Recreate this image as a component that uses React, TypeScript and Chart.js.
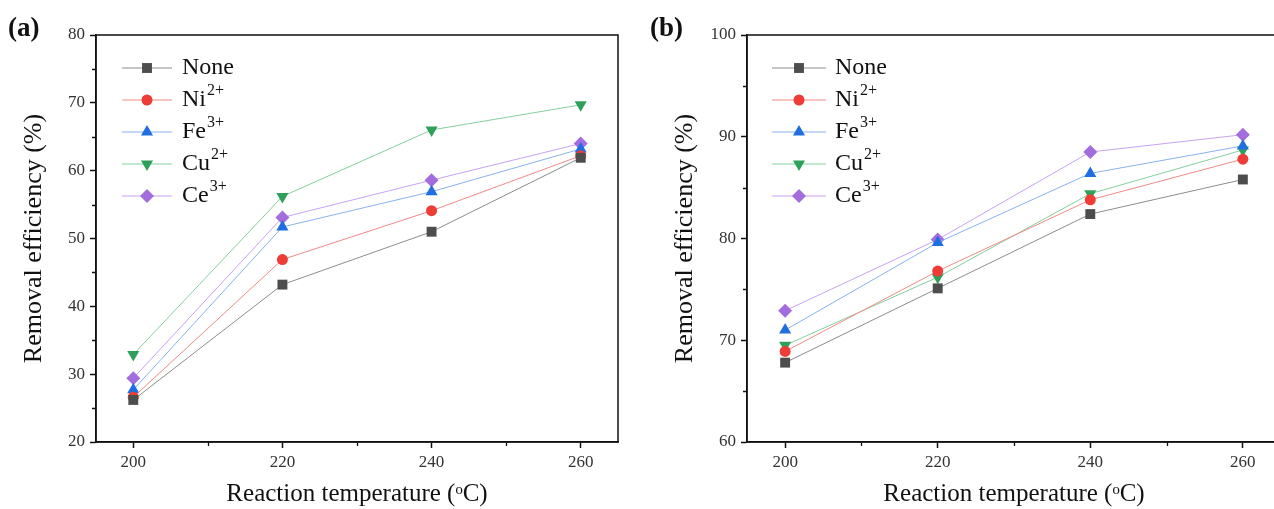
import React, { useEffect, useRef } from 'react';
import { Chart, registerables } from 'chart.js';
import { drawPoint } from 'chart.js/helpers';

Chart.register(...registerables);

// Reaction temperatures (°C)
const temperatures = [200, 220, 240, 260];

// Dopant series
const ionNames = ['None', 'Ni', 'Fe', 'Cu', 'Ce'];
const ionCharges = ['', '2+', '3+', '2+', '3+'];

// Panel (a) removal efficiency (%)
const effA_none = [26.2, 43.2, 51.0, 61.9];
const effA_ni = [26.6, 46.9, 54.1, 62.2];
const effA_fe = [27.7, 51.7, 56.9, 63.2];
const effA_cu = [32.9, 56.2, 66.0, 69.7];
const effA_ce = [29.4, 53.1, 58.6, 64.0];

// Panel (b) removal efficiency (%)
const effB_none = [67.8, 75.1, 82.4, 85.8];
const effB_ni = [68.9, 76.8, 83.8, 87.8];
const effB_fe = [71.0, 79.6, 86.4, 89.1];
const effB_cu = [69.5, 76.2, 84.4, 88.7];
const effB_ce = [72.9, 79.9, 88.5, 90.2];

// Axis ticks
const xTicks = [200, 220, 240, 260];
const xMinorTicks = [210, 230, 250];
const yTicksA = [20, 30, 40, 50, 60, 70, 80];
const yMinorA = [25, 35, 45, 55, 65, 75];
const yTicksB = [60, 70, 80, 90, 100];
const yMinorB = [65, 75, 85, 95];

// Series styling
const lineColors = ['#8c8c8c', '#f08a86', '#88b2ef', '#84cf9e', '#c6a2f2'];
const markerColors = ['#4d4d4d', '#ee3c37', '#1f6fe0', '#2fa05a', '#a36ddd'];
const markerStyles = ['rect', 'circle', 'triangle', 'triangle', 'rectRot'];
const markerRotations = [0, 0, 0, 180, 0];
const markerRadii = [7, 5.5, 7, 7, 7];

const SERIF = '"Liberation Serif", "Times New Roman", serif';

const supDigits: Record<string, string> = { '2': '²', '3': '³', '+': '⁺' };
const seriesLabel = (i: number) =>
  ionNames[i] + ionCharges[i].split('').map((c) => supDigits[c] || c).join('');

// Box frame and minor tick marks
const framePlugin = {
  id: 'frameMinor',
  afterDraw(chart: any, _args: any, opts: any) {
    const { ctx, chartArea: a, scales } = chart;
    ctx.save();
    ctx.strokeStyle = '#111';
    ctx.lineWidth = 1.5;
    ctx.strokeRect(a.left, a.top, a.right - a.left, a.bottom - a.top);
    ctx.lineWidth = 1.3;
    ctx.beginPath();
    for (const v of opts.xMinor) {
      const px = Math.round(scales.x.getPixelForValue(v)) + 0.5;
      ctx.moveTo(px, a.bottom);
      ctx.lineTo(px, a.bottom + 4);
    }
    for (const v of opts.yMinor) {
      const py = Math.round(scales.y.getPixelForValue(v)) + 0.5;
      ctx.moveTo(a.left, py);
      ctx.lineTo(a.left - 4, py);
    }
    ctx.stroke();
    ctx.restore();
  },
};

// Legend with line sample, marker and superscripted ion charge
const legendPlugin = {
  id: 'ionLegend',
  afterDraw(chart: any, _args: any, opts: any) {
    const { ctx, chartArea: a } = chart;
    ctx.save();
    chart.data.datasets.forEach((ds: any, i: number) => {
      const y = a.top + opts.top + i * opts.rowGap;
      const x0 = a.left + opts.lineStart;
      const x1 = a.left + opts.lineEnd;
      ctx.strokeStyle = ds.borderColor;
      ctx.lineWidth = 1;
      ctx.beginPath();
      ctx.moveTo(x0, y);
      ctx.lineTo(x1, y);
      ctx.stroke();
      ctx.fillStyle = ds.pointBackgroundColor;
      ctx.strokeStyle = ds.pointBorderColor;
      drawPoint(
        ctx,
        {
          pointStyle: ds.pointStyle,
          rotation: ds.pointRotation,
          radius: ds.pointRadius,
          borderWidth: 0,
        } as any,
        (x0 + x1) / 2,
        y
      );
      const tx = a.left + opts.textStart;
      ctx.fillStyle = '#111';
      ctx.textBaseline = 'middle';
      ctx.textAlign = 'left';
      ctx.font = `24px ${SERIF}`;
      ctx.fillText(opts.names[i], tx, y);
      const w = ctx.measureText(opts.names[i]).width;
      if (opts.charges[i]) {
        ctx.font = `16px ${SERIF}`;
        ctx.fillText(opts.charges[i], tx + w + 1, y - 9);
      }
    });
    ctx.restore();
  },
};

type PanelProps = {
  series: number[][];
  yMin: number;
  yMax: number;
  yTicks: number[];
  yMinor: number[];
  left: number;
  width: number;
  padLeft: number;
  plotLeft: number;
  plotRight: number;
  legend: { lineStart: number; lineEnd: number; textStart: number };
};

function Panel(p: PanelProps) {
  const ref = useRef<HTMLCanvasElement | null>(null);

  useEffect(() => {
    if (!ref.current) return;
    const datasets = p.series.map((vals, i) => ({
      label: seriesLabel(i),
      data: temperatures.map((t, k) => ({ x: t, y: vals[k] })),
      borderColor: lineColors[i],
      borderWidth: 1,
      pointStyle: markerStyles[i],
      pointRotation: markerRotations[i],
      pointRadius: markerRadii[i],
      pointBackgroundColor: markerColors[i],
      pointBorderColor: markerColors[i],
      pointBorderWidth: 0,
      tension: 0,
    }));

    const chart = new Chart(ref.current, {
      type: 'line',
      data: { datasets },
      plugins: [framePlugin, legendPlugin],
      options: {
        responsive: false,
        animation: false,
        devicePixelRatio: 1,
        layout: {
          padding: { left: p.padLeft, top: 35, right: p.width - p.plotRight, bottom: 0 },
        },
        plugins: {
          legend: { display: false },
          tooltip: { enabled: false },
          frameMinor: { xMinor: xMinorTicks, yMinor: p.yMinor },
          ionLegend: {
            names: ionNames,
            charges: ionCharges,
            top: 33,
            rowGap: 32,
            ...p.legend,
          },
        } as any,
        scales: {
          x: {
            type: 'linear',
            min: 195,
            max: 265,
            afterBuildTicks: (s: any) => {
              s.ticks = xTicks.map((v) => ({ value: v }));
            },
            afterFit: (s: any) => {
              s.height = 509 - 442;
            },
            grid: {
              drawOnChartArea: false,
              drawTicks: true,
              tickLength: 6,
              tickColor: '#111',
              tickWidth: 1.5,
            },
            border: { display: true, color: '#111', width: 1.5 },
            ticks: {
              padding: 4,
              color: '#333',
              font: { family: SERIF, size: 17 },
              maxRotation: 0,
            },
            title: {
              display: true,
              text: 'Reaction temperature (ᵒC)',
              color: '#111',
              font: { family: SERIF, size: 25 },
              padding: { top: 0, bottom: 0 },
            },
          },
          y: {
            type: 'linear',
            min: p.yMin,
            max: p.yMax,
            afterBuildTicks: (s: any) => {
              s.ticks = p.yTicks.map((v) => ({ value: v }));
            },
            afterFit: (s: any) => {
              s.width = p.plotLeft - p.padLeft;
            },
            grid: {
              drawOnChartArea: false,
              drawTicks: true,
              tickLength: 6,
              tickColor: '#111',
              tickWidth: 1.5,
            },
            border: { display: true, color: '#111', width: 1.5 },
            ticks: {
              padding: 5,
              color: '#333',
              font: { family: SERIF, size: 17 },
            },
            title: {
              display: true,
              text: 'Removal efficiency (%)',
              color: '#111',
              font: { family: SERIF, size: 26 },
              padding: { top: 0, bottom: 0 },
            },
          },
        },
      } as any,
    });
    return () => chart.destroy();
  }, []);

  return (
    <canvas
      ref={ref}
      width={p.width}
      height={509}
      style={{ position: 'absolute', left: p.left, top: 0, width: p.width, height: 509 }}
    />
  );
}

const panelLabelStyle: React.CSSProperties = {
  position: 'absolute',
  top: 12,
  fontFamily: SERIF,
  fontWeight: 'bold',
  fontSize: 27,
  color: '#111',
  lineHeight: '30px',
};

export default function App() {
  return (
    <div
      style={{
        position: 'fixed',
        left: 0,
        top: 0,
        width: 1274,
        height: 509,
        overflow: 'hidden',
        background: '#fff',
      }}
    >
      <Panel
        series={[effA_none, effA_ni, effA_fe, effA_cu, effA_ce]}
        yMin={20}
        yMax={80}
        yTicks={yTicksA}
        yMinor={yMinorA}
        left={0}
        width={637}
        padLeft={19}
        plotLeft={96}
        plotRight={618}
        legend={{ lineStart: 26, lineEnd: 76, textStart: 86 }}
      />
      <Panel
        series={[effB_none, effB_ni, effB_fe, effB_cu, effB_ce]}
        yMin={60}
        yMax={100}
        yTicks={yTicksB}
        yMinor={yMinorB}
        left={637}
        width={670}
        padLeft={33}
        plotLeft={110}
        plotRight={644}
        legend={{ lineStart: 25, lineEnd: 79, textStart: 88 }}
      />
      <div style={{ ...panelLabelStyle, left: 8 }}>(a)</div>
      <div style={{ ...panelLabelStyle, left: 650 }}>(b)</div>
    </div>
  );
}
